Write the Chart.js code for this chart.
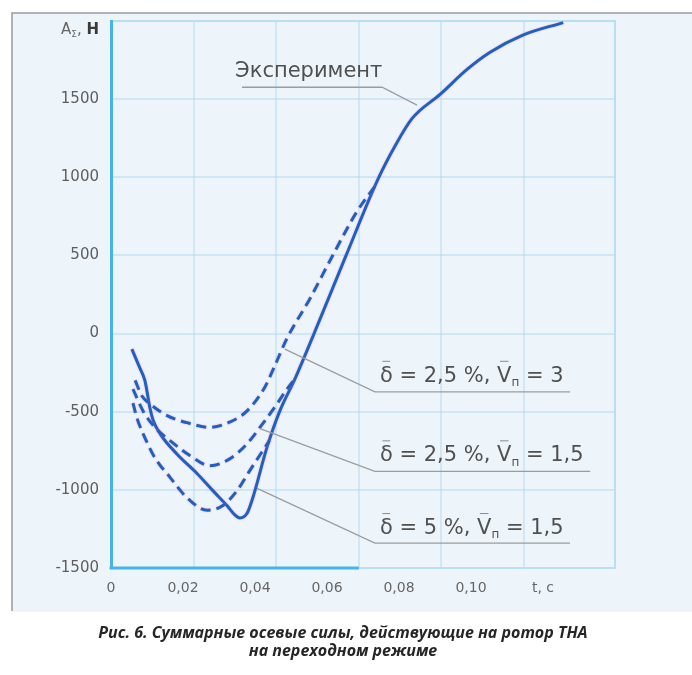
<!DOCTYPE html>
<html>
<head>
<meta charset="utf-8">
<script src="https://cdn.jsdelivr.net/npm/chart.js@4.4.1/dist/chart.umd.min.js"></script>
<style>
  html, body { margin: 0; padding: 0; background: #ffffff; }
  #wrap { position: relative; width: 692px; height: 675px; overflow: hidden; }
  #c { position: absolute; left: 0; top: 0; }
  #caption {
    position: absolute; left: 0; top: 623px; width: 686px;
    text-align: center; color: #262626;
    font: italic bold 16px "Open Sans", sans-serif; line-height: 18px;
  }
</style>
</head>
<body>
<div id="wrap">
  <canvas id="c" width="692" height="675"></canvas>
  <div id="caption">Рис. 6. Суммарные осевые силы, действующие на ротор ТНА<br>на переходном режиме</div>
</div>
<script>
// ---- axial force A_Σ (N) versus time t (s) ----
// measured curve
const tExp = [0.0058, 0.0080, 0.0094, 0.0103, 0.0108, 0.0117, 0.0136, 0.0183, 0.0239, 0.0283, 0.0322,
              0.0344, 0.0358, 0.0378, 0.0394, 0.0433, 0.0469, 0.0511, 0.0564, 0.0653, 0.0742, 0.0789,
              0.0836, 0.0914, 0.0989, 0.1053, 0.1144, 0.1256];
const aExp = [-100, -220, -300, -410, -475, -555, -640, -770, -895, -1005, -1100,
              -1160, -1180, -1150, -1050, -730, -495, -290, 0, 500, 990, 1200,
              1375, 1530, 1690, 1800, 1910, 1990];

// computed: δ = 2,5 %, Vп = 3
const tCalc1 = [0.0067, 0.0086, 0.0108, 0.0156, 0.0211, 0.0275, 0.0331, 0.0378, 0.0428, 0.0458, 0.0489,
                0.0553, 0.0617, 0.0683, 0.0742];
const aCalc1 = [-300, -400, -450, -525, -570, -600, -565, -495, -340, -190, -30,
                225, 505, 780, 970];

// computed: δ = 2,5 %, Vп = 1,5
const tCalc2 = [0.0061, 0.0089, 0.0122, 0.0164, 0.0219, 0.0275, 0.0331, 0.0378, 0.0422, 0.0461, 0.0489, 0.0511];
const aCalc2 = [-355, -495, -600, -685, -780, -845, -800, -705, -575, -450, -355, -290];

// computed: δ = 5 %, Vп = 1,5
const tCalc3 = [0.0061, 0.0072, 0.0089, 0.0122, 0.0164, 0.0211, 0.0267, 0.0311, 0.0350, 0.0386, 0.0440];
const aCalc3 = [-445, -540, -640, -795, -920, -1050, -1130, -1100, -1005, -875, -685];

// parameters of the computed curves
const deltaVals = ['2,5', '2,5', '5'];
const velVals   = ['3', '1,5', '1,5'];

// axis ticks
const xTickLabels = ['0', '0,02', '0,04', '0,06', '0,08', '0,10', 't, c', ''];
const yTicks = [-1500, -1000, -500, 0, 500, 1000, 1500, 2000];
const gridCells = [0, 1, 2, 3, 4, 5];

const toPts = (ts, vs) => ts.map((t, i) => ({ x: t, y: vs[i] }));

const BLUE = '#1f61c2';
const AXIS_BLUE = '#44b5ea';
const FRAME_BLUE = '#b7e0f5';
const GRID = 'rgba(175, 218, 244, 0.5)';
const TEXT = '#505050';
const LEADER = '#9c9c9c';
const FONT = '"DejaVu Sans", sans-serif';

// leader line: curve point -> corner of the underline -> far end of the underline
const notes = [
  { kind: 'exp', from: [0.0850, 1462], corner: [0.0753, 1576], end: 0.0364, dx: -7, dy: -10 },
  { kind: 0, from: [0.0483, -99],  corner: [0.0733, -373],  end: 0.1275, dx: 5, dy: -10 },
  { kind: 1, from: [0.0414, -608], corner: [0.0733, -882],  end: 0.1331, dx: 5, dy: -10 },
  { kind: 2, from: [0.0406, -990], corner: [0.0733, -1341], end: 0.1275, dx: 5, dy: -9 }
];

function drawRuns(ctx, x, y, runs) {
  let cx = x;
  for (const r of runs) {
    ctx.font = r.font;
    ctx.fillStyle = r.color || TEXT;
    const w = ctx.measureText(r.s).width;
    ctx.fillText(r.s, cx, y + (r.shift || 0));
    if (r.bar) {
      ctx.save();
      ctx.strokeStyle = '#8a8a8a';
      ctx.lineWidth = 1;
      ctx.beginPath();
      ctx.moveTo(cx + w * 0.2, y - r.barH);
      ctx.lineTo(cx + w * 0.8, y - r.barH);
      ctx.stroke();
      ctx.restore();
    }
    cx += w;
  }
  return cx - x;
}

function measureRuns(ctx, runs) {
  let w = 0;
  for (const r of runs) { ctx.font = r.font; w += ctx.measureText(r.s).width; }
  return w;
}

function paramRuns(i, size) {
  const f = size + 'px ' + FONT;
  const fs = Math.round(size * 0.55) + 'px ' + FONT;
  return [
    { s: 'δ', font: f, bar: true, barH: size * 0.98 },
    { s: ' = ' + deltaVals[i] + ' %, ', font: f },
    { s: 'V', font: f, bar: true, barH: size * 0.98 },
    { s: 'п', font: fs, shift: size * 0.2 },
    { s: ' = ' + velVals[i], font: f }
  ];
}

const panelPlugin = {
  id: 'panel',
  beforeDraw(chart) {
    const ctx = chart.ctx;
    ctx.save();
    ctx.fillStyle = '#ffffff';
    ctx.fillRect(0, 0, chart.width, chart.height);
    ctx.fillStyle = '#eef5fa';
    ctx.fillRect(12, 13, chart.width - 12, 599);
    ctx.strokeStyle = '#9a9a9a';
    ctx.lineWidth = 1.5;
    ctx.beginPath();
    ctx.moveTo(12, 611);
    ctx.lineTo(12, 13);
    ctx.lineTo(chart.width, 13);
    ctx.stroke();
    ctx.restore();
  }
};

const framePlugin = {
  id: 'frame',
  beforeDatasetsDraw(chart) {
    const { ctx, chartArea: a, scales } = chart;
    const xMid = scales.xg.getPixelForValue(3);
    ctx.save();
    ctx.lineCap = 'butt';
    ctx.strokeStyle = FRAME_BLUE;
    ctx.lineWidth = 2;
    ctx.beginPath();
    ctx.moveTo(xMid, a.bottom);
    ctx.lineTo(a.right, a.bottom);
    ctx.stroke();
    ctx.strokeStyle = AXIS_BLUE;
    ctx.lineWidth = 3;
    ctx.beginPath();
    ctx.moveTo(a.left - 1.5, a.bottom);
    ctx.lineTo(xMid, a.bottom);
    ctx.stroke();
    ctx.restore();
  },
  beforeDatasetDraw(chart) {
    const ctx = chart.ctx;
    ctx.save();
    ctx.shadowColor = 'rgba(240, 120, 170, 0.55)';
    ctx.shadowBlur = 2;
  },
  afterDatasetDraw(chart) {
    chart.ctx.restore();
  }
};

const notesPlugin = {
  id: 'notes',
  afterDatasetsDraw(chart) {
    const { ctx, scales: { x, y } } = chart;
    ctx.save();
    ctx.textAlign = 'left';
    ctx.textBaseline = 'alphabetic';
    for (const n of notes) {
      const px = x.getPixelForValue(n.from[0]), py = y.getPixelForValue(n.from[1]);
      const qx = x.getPixelForValue(n.corner[0]), qy = y.getPixelForValue(n.corner[1]);
      const rx = x.getPixelForValue(n.end);
      ctx.strokeStyle = LEADER;
      ctx.lineWidth = 1.3;
      ctx.beginPath();
      ctx.moveTo(px, py);
      ctx.lineTo(qx, qy);
      ctx.lineTo(rx, qy);
      ctx.stroke();
      const left = Math.min(qx, rx) + n.dx;
      const base = qy + n.dy;
      if (n.kind === 'exp') {
        drawRuns(ctx, left, base, [{ s: 'Эксперимент', font: '21px ' + FONT }]);
      } else {
        drawRuns(ctx, left, base, paramRuns(n.kind, 21));
      }
    }
    // y-axis title at the top tick
    const runs = [
      { s: 'A', font: '15px ' + FONT, color: '#666' },
      { s: 'Σ', font: '9px ' + FONT, color: '#666', shift: 3 },
      { s: ', ', font: '15px ' + FONT, color: '#666' },
      { s: 'Н', font: 'bold 15px ' + FONT, color: '#3a3a3a' }
    ];
    const w = measureRuns(ctx, runs);
    drawRuns(ctx, chart.chartArea.left - 12 - w, y.getPixelForValue(2000) + 13, runs);
    ctx.restore();
  }
};

const lineDs = (label, pts, dashed) => ({
  label,
  data: pts,
  showLine: true,
  borderColor: BLUE,
  borderWidth: 3,
  borderDash: dashed ? [10, 6] : [],
  pointRadius: 0,
  cubicInterpolationMode: 'monotone',
  fill: false,
  xAxisID: 'x',
  yAxisID: 'y'
});

new Chart(document.getElementById('c'), {
  type: 'scatter',
  data: {
    datasets: [
      lineDs('δ = 2,5 %, Vп = 3', toPts(tCalc1, aCalc1), true),
      lineDs('δ = 2,5 %, Vп = 1,5', toPts(tCalc2, aCalc2), true),
      lineDs('δ = 5 %, Vп = 1,5', toPts(tCalc3, aCalc3), true),
      lineDs('Эксперимент', toPts(tExp, aExp), false)
    ]
  },
  options: {
    responsive: false,
    animation: false,
    devicePixelRatio: 1,
    layout: { padding: { top: 19, left: 0, right: 0, bottom: 0 } },
    plugins: { legend: { display: false }, tooltip: { enabled: false }, title: { display: false } },
    scales: {
      x: {
        type: 'linear', position: 'bottom', min: 0, max: 0.14,
        afterBuildTicks: s => { s.ticks = xTickLabels.map((_, i) => ({ value: i * 0.02 })); },
        ticks: {
          autoSkip: false, maxRotation: 0, padding: 12, color: '#666',
          font: { family: FONT, size: 14 },
          callback: (v, i) => xTickLabels[i]
        },
        grid: { display: false, drawTicks: false },
        border: { display: false },
        afterFit: s => { s.height = 107; }
      },
      xg: {
        type: 'linear', position: 'top', min: 0, max: 6.1,
        afterBuildTicks: s => { s.ticks = gridCells.map(v => ({ value: v })); },
        ticks: { display: false },
        grid: { color: GRID, lineWidth: 2, drawTicks: false },
        border: { display: false },
        afterFit: s => { s.height = 0; }
      },
      y: {
        type: 'linear', position: 'left', min: -1500, max: 2000,
        afterBuildTicks: s => { s.ticks = yTicks.map(v => ({ value: v })); },
        ticks: {
          padding: 12, color: '#5e5e5e',
          font: { family: FONT, size: 15 },
          callback: v => (v === 2000 ? '' : String(v))
        },
        grid: {
          drawTicks: false, lineWidth: 2,
          color: c => (c.tick && c.tick.value === 2000 ? FRAME_BLUE : GRID)
        },
        border: { display: true, color: AXIS_BLUE, width: 3 },
        afterFit: s => { s.width = 111; }
      },
      yr: {
        type: 'linear', position: 'right', min: -1500, max: 2000,
        ticks: { display: false },
        grid: { display: false, drawTicks: false },
        border: { display: true, color: FRAME_BLUE, width: 2 },
        afterFit: s => { s.width = 77; }
      }
    }
  },
  plugins: [panelPlugin, framePlugin, notesPlugin]
});
</script>
</body>
</html>
